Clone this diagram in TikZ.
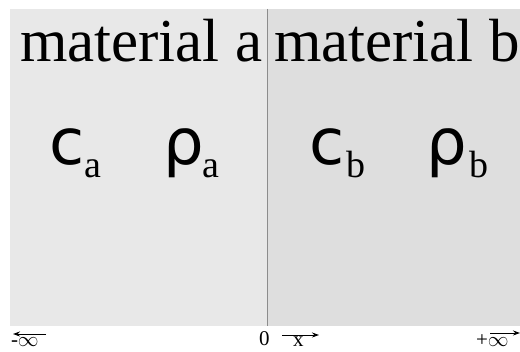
\documentclass[tikz,border=0pt]{standalone}
\usepackage{fontspec}
\setmainfont{Liberation Serif}
\newfontfamily\symfont{DejaVu Sans}
\usetikzlibrary{arrows.meta}
\definecolor{panelA}{HTML}{E8E8E8}
\definecolor{panelB}{HTML}{DEDEDE}
\definecolor{divcol}{HTML}{8C8C8C}
\tikzset{
  lbl/.style={inner sep=0pt, outer sep=0pt, anchor=base west},
  title/.style={lbl, font=\fontsize{61}{72}\selectfont},
  sym/.style={lbl, font=\symfont\fontsize{64}{76}\selectfont},
  sub/.style={lbl, font=\fontsize{38}{46}\selectfont},
  axis/.style={lbl, font=\fontsize{21}{25}\selectfont},
  axarrow/.style={line width=0.9pt, -{Stealth[length=7pt,width=5pt]}}
}
\begin{document}
\begin{tikzpicture}[x=1pt,y=-1pt]
\useasboundingbox (0,0) rectangle (520,352);
\fill[panelA] (10,9) rectangle (267,326);
\fill[panelB] (267,9) rectangle (520,326);
\draw[divcol, line width=0.8pt] (267,9) -- (267,326);

\node[title] (ma) at (20,62) {material a};
\node[title] (mb) at (274,62) {material b};

\node[sym] (ca) at (49,165) {c};
\node[sub] (ca-s) at (84,178) {a};
\node[sym] (ra) at (163,165) {ρ};
\node[sub] (ra-s) at (202,178) {a};

\node[sym] (cb) at (309,165) {c};
\node[sub] (cb-s) at (346,178) {b};
\node[sym] (rb) at (426,165) {ρ};
\node[sub] (rb-s) at (469,178) {b};

\node[axis] (minf) at (11,347) {-$\infty$};
\node[axis] (zero) at (259,346) {0};
\node[axis] (xl) at (293,347) {x};
\node[axis] (pinf) at (476,347) {+$\infty$};

\coordinate (minfA) at (46,334);
\coordinate (minfB) at (13,334);
\coordinate (xA) at (282,335);
\coordinate (xB) at (319,335);
\coordinate (pinfA) at (490,333);
\coordinate (pinfB) at (520,333);
\draw[axarrow] (minfA) -- (minfB);
\draw[axarrow] (xA) -- (xB);
\draw[axarrow] (pinfA) -- (pinfB);
\end{tikzpicture}
\end{document}
